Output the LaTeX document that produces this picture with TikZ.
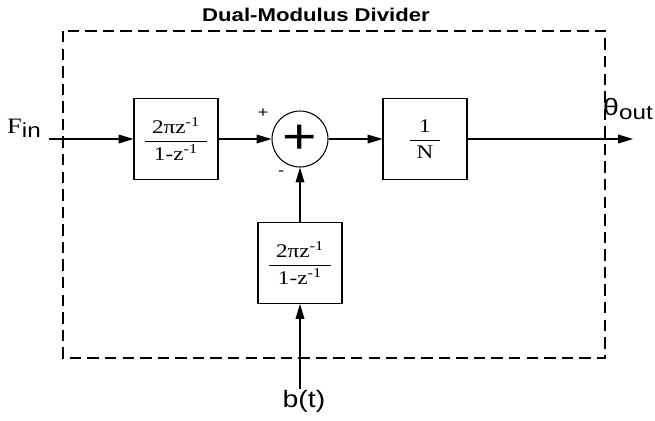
\documentclass[tikz,border=0pt]{standalone}
\usepackage{amsmath}
\usepackage{fontspec}
\usetikzlibrary{arrows.meta}
\newfontfamily\lblsans[FakeStretch=1.2]{Liberation Sans}
\newfontfamily\lblserif[FakeStretch=1.2]{Liberation Serif}
\newcommand{\zfrac}[2]{$\genfrac{}{}{0.6pt}{0}{\mbox{\kern4pt#1\kern4pt}}{\mbox{\kern4pt#2\kern4pt}}$}
\tikzset{
    sigflow/.style={line width=0.6pt,-{Triangle[length=8.5pt,width=5pt]}},
    tfbox/.style={rectangle,draw=black,line width=0.6pt,minimum width=1.68cm,minimum height=1.62cm,inner sep=0pt,font=\lblserif\fontsize{11}{13}\selectfont},
    sumcirc/.style={circle,draw=black,line width=0.6pt,minimum size=1.12cm,inner sep=0pt,font=\lblsans\fontsize{28}{30}\selectfont},
    dashframe/.style={draw=black,line width=0.6pt,dash pattern=on 6.5pt off 3.5pt},
    iolabel/.style={inner sep=0pt,font=\lblsans\fontsize{13.5}{16}\selectfont},
    signlabel/.style={inner sep=0pt,font=\lblsans\fontsize{8.5}{10}\selectfont}
}

\begin{document}
\begin{tikzpicture}[x=0.02cm,y=-0.02cm]
		\useasboundingbox (0,0) rectangle (655,420);
		% divider frame
		\draw[dashframe] (63,31) rectangle (605,358);
		\node[font=\lblsans\bfseries\fontsize{10.5}{12}\selectfont] (title) at (316,15) {Dual-Modulus Divider};
		% forward path
		\node[iolabel] (fin) at (24,128) {{\lblserif\fontsize{12.5}{14}\selectfont F}\raisebox{-2.3pt}{\fontsize{11.5}{13}\selectfont in}};
		\coordinate (finstart) at (49,139);
		\node[tfbox] (accin) at (176,139) {\zfrac{2πz\textsuperscript{-1}}{1-z\textsuperscript{-1}}};
		\node[sumcirc] (sum) at (300,139) {+};
		\node[tfbox] (divn) at (425,139) {\zfrac{1}{N}};
		\coordinate (outend) at (633,139);
		\node[iolabel] (thout) at (628,109) {θ\raisebox{-2.8pt}{\fontsize{11.5}{13}\selectfont out}};
		\node[signlabel] (plus) at (263,113) {+};
		\node[signlabel] (minus) at (281,173) {-};
		% feedback path
		\node[tfbox] (accb) at (300,263) {\zfrac{2πz\textsuperscript{-1}}{1-z\textsuperscript{-1}}};
		\node[iolabel] (bt) at (304,401) {b(t)};
		\coordinate (btstart) at (300,389);
		% connections
		\draw[sigflow] (finstart) -- (accin);
		\draw[sigflow] (accin) -- (sum);
		\draw[sigflow] (sum) -- (divn);
		\draw[sigflow] (divn) -- (outend);
		\draw[sigflow] (btstart) -- (accb);
		\draw[sigflow] (accb) -- (sum);
\end{tikzpicture}
\end{document}
